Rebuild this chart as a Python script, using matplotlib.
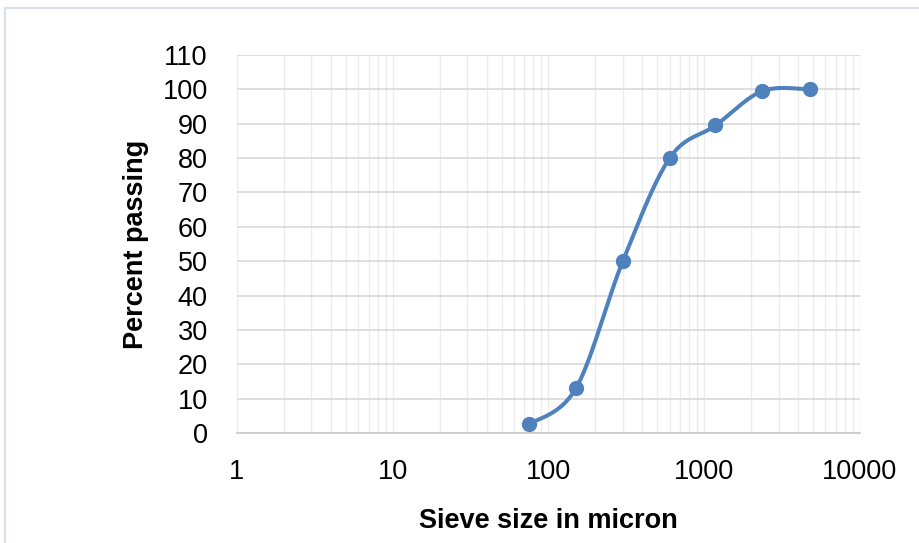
import numpy as np
import matplotlib
matplotlib.use("Agg")
import matplotlib.pyplot as plt
from matplotlib.patches import Rectangle
from matplotlib.ticker import FixedLocator, NullFormatter, LogLocator

# Sieve analysis data
sieve_size = [75, 150, 300, 600, 1180, 2360, 4750]
percent_passing = [2.5, 13, 50, 80, 89.5, 99.5, 100]
x_ticks = [1, 10, 100, 1000, 10000]
x_tick_labels = ["1", "10", "100", "1000", "10000"]
y_ticks = list(range(0, 111, 10))

blue = "#4f81bd"
font = "Liberation Sans"

fig = plt.figure(figsize=(9.19, 5.43), dpi=100)
fig.patch.set_facecolor("white")

# light frame around the chart area
fig.patches.append(Rectangle((5 / 919, -0.05), 1.2, 1 - 8 / 543 + 0.05,
                             transform=fig.transFigure, fill=False,
                             edgecolor="#d6e0ee", linewidth=1.5))

ax = fig.add_axes([237 / 919, 1 - 433 / 543, (860 - 237) / 919, (433 - 55) / 543])
ax.set_xscale("log")
ax.set_xlim(1, 10000)
ax.set_ylim(0, 110)

ax.xaxis.set_major_locator(FixedLocator(x_ticks))
ax.set_xticklabels(x_tick_labels)
ax.xaxis.set_minor_locator(LogLocator(base=10, subs=np.arange(2, 10), numticks=50))
ax.xaxis.set_minor_formatter(NullFormatter())
ax.set_yticks(y_ticks)

ax.grid(True, which="major", axis="y", color="#d9d9d9", linewidth=1.2)
ax.grid(True, which="both", axis="x", color="#ececec", linewidth=1.0)
ax.set_axisbelow(True)
for s in ["top", "right", "left"]:
    ax.spines[s].set_visible(False)
ax.spines["bottom"].set_color("#c8c8c8")
ax.spines["bottom"].set_linewidth(1.2)
ax.tick_params(axis="both", which="both", length=0)
ax.tick_params(axis="y", pad=21, labelsize=19.5)
ax.tick_params(axis="x", pad=19, labelsize=19.5)
for lab in ax.get_xticklabels() + ax.get_yticklabels():
    lab.set_fontfamily(font)

# smoothed curve through the points (Catmull-Rom in display space)
fig.canvas.draw()
pts = ax.transData.transform(np.column_stack([sieve_size, percent_passing]))
n = len(pts)
curve = []
for i in range(n - 1):
    p0 = pts[i - 1] if i > 0 else pts[i]
    p1 = pts[i]
    p2 = pts[i + 1]
    p3 = pts[i + 2] if i + 2 < n else pts[i + 1]
    c1 = p1 + (p2 - p0) / 6.0
    c2 = p2 - (p3 - p1) / 6.0
    t = np.linspace(0, 1, 40)[:, None]
    seg = ((1 - t) ** 3) * p1 + 3 * ((1 - t) ** 2) * t * c1 + 3 * (1 - t) * t ** 2 * c2 + t ** 3 * p2
    curve.append(seg if i == 0 else seg[1:])
curve = np.vstack(curve)
curve_data = ax.transData.inverted().transform(curve)

ax.plot(curve_data[:, 0], curve_data[:, 1], color=blue, linewidth=2.9,
        solid_capstyle="round", zorder=3)
ax.plot(sieve_size, percent_passing, "o", color=blue, markersize=10, zorder=4)

ax.set_xlabel("Sieve size in micron", fontsize=19.5, fontweight="bold",
              fontfamily=font, labelpad=16)
ax.set_ylabel("Percent passing", fontsize=19.5, fontweight="bold",
              fontfamily=font, labelpad=10)

fig.savefig("out.png", dpi=100)
